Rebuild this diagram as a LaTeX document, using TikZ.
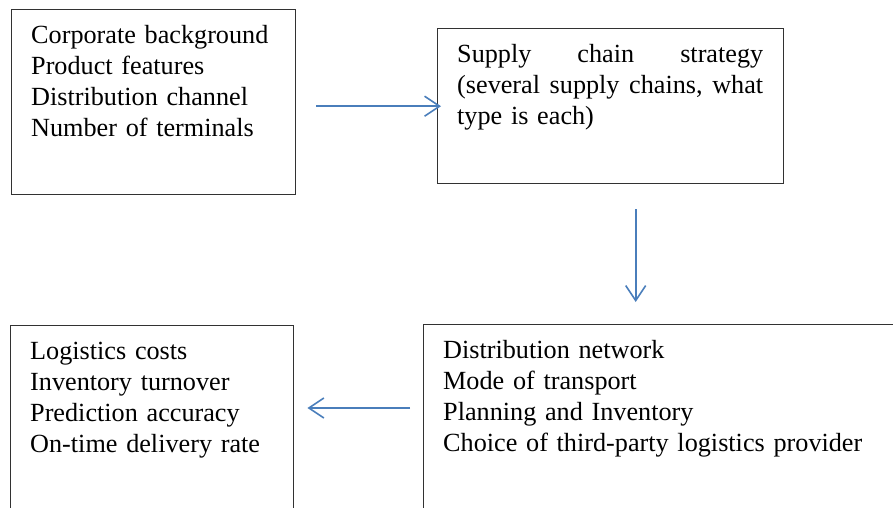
\documentclass[tikz,border=0pt]{standalone}
\usepackage{fontspec}
\setmainfont{Liberation Serif}
\usepackage{tikz}
\usetikzlibrary{arrows.meta,positioning}
\definecolor{flowblue}{RGB}{74,126,187}
\definecolor{boxgray}{RGB}{50,50,50}
\tikzset{
  stagebox/.style={rectangle, draw=boxgray, line width=1.4pt, anchor=north west,
                   inner sep=0pt},
  stagetext/.style={anchor=north west, inner sep=0pt, align=left, text=black,
                    font=\fontsize{26.2}{31}\selectfont},
  flow/.style={-{Straight Barb[length=15pt,width=20pt]}, line width=1.6pt, flowblue},
}

\begin{document}
\begin{tikzpicture}[x=1pt,y=1pt]
  \useasboundingbox (0,0) rectangle (893,507);
  \clip (0,0) rectangle (893,507);
  % the four stages
  \node[stagebox, minimum width=284pt, minimum height=185pt] (b1) at (11,498) {};
  \node[stagebox, minimum width=346pt, minimum height=155pt] (b2) at (437,479) {};
  \node[stagebox, minimum width=283pt, minimum height=200pt] (b3) at (10,182) {};
  \node[stagebox, minimum width=490pt, minimum height=200pt] (b4) at (423,183) {};
  % what goes in each
  \node[stagetext, text width=270pt, below right=12.3pt and 20pt of b1.north west] (t1)
    {\strut Corporate background\\ Product features\\ Distribution channel\\ Number of terminals};
  \node[stagetext, text width=306pt, below right=12.3pt and 20pt of b2.north west] (t2)
    {\strut Supply\hfill chain\hfill strategy\\ (several\hfill supply\hfill chains,\hfill what\\ type is each)};
  \node[stagetext, text width=260pt, below right=12.3pt and 20pt of b3.north west] (t3)
    {\strut Logistics costs\\ Inventory turnover\\ Prediction accuracy\\ On-time delivery rate};
  \node[stagetext, text width=440pt, below right=12.3pt and 20pt of b4.north west] (t4)
    {\strut Distribution network\\ Mode of transport\\ Planning and Inventory\\ Choice of third-party logistics provider};
  % arrows between stages
  \draw[flow, shorten <=20pt, shorten >=-4pt] (b1.east |- b2.west) -- (b2.west);
  \draw[flow, shorten <=25pt, shorten >=22pt] ([xshift=25pt]b2.south) -- ([xshift=25pt]b2.south |- b4.north);
  \draw[flow, shorten <=13pt, shorten >=13pt] ([yshift=-84pt]b4.north west) -- ([yshift=-84pt]b4.north west -| b3.east);
\end{tikzpicture}
\end{document}
